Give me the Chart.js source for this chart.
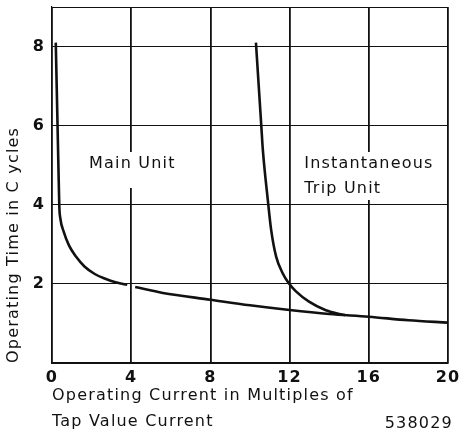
<!DOCTYPE html>
<html>
<head>
<meta charset="utf-8">
<script src="https://cdn.jsdelivr.net/npm/chart.js@4/dist/chart.umd.min.js"></script>
<style>
  html, body { margin: 0; padding: 0; background: #fff; }
  #wrap { width: 462px; height: 435px; }
</style>
</head>
<body>
<div id="wrap"><canvas id="chart-curves"></canvas></div>
<script>
// operating current, multiples of tap value
const mainCurrent = [0.19, 0.28, 0.34, 0.37, 0.42, 0.59, 0.85, 1.21, 1.64, 2.16, 2.69, 3.21, 3.65, 3.8, 4.0,
                     4.2, 5.6, 8, 10, 12, 14, 16, 18, 20];
// operating time, cycles (null = break in the printed curve)
const mainTime = [8.1, 6.0, 4.6, 3.95, 3.66, 3.32, 2.98, 2.69, 2.44, 2.25, 2.13, 2.04, 1.99, 1.98, null,
                  1.92, 1.77, 1.6, 1.46, 1.34, 1.24, 1.17, 1.08, 1.02];

const instCurrent = [10.3, 10.57, 10.65, 10.9, 11.07, 11.32, 11.65, 11.95, 12.32, 12.98, 13.8, 14.5, 14.8];
const instTime = [8.1, 6.0, 5.38, 4.12, 3.36, 2.69, 2.27, 2.02, 1.81, 1.55, 1.34, 1.24, 1.21];

const xTicks = [0, 4, 8, 12, 16, 20];
const yTicks = [2, 4, 6, 8];

const curveLabels = [
    {lines: ['Main Unit'], x: 1.87, y: 4.93, padBottom: 20},
    {lines: ['Instantaneous', 'Trip Unit'], x: 12.74, y: 4.93, padBottom: 7}
];

const FONT = 'DejaVu Sans';
const INK = '#111';

function toPoints(xs, ys) {
    return xs.map((x, i) => ({x: x, y: ys[i]}));
}

/* labels on white patches, drawn over the grid but under the curves */
const curveLabelPlugin = {
    id: 'curveLabels',
    beforeDraw(chart) {
        chart.ctx.letterSpacing = '1.2px';
    },
    beforeDatasetsDraw(chart) {
        const ctx = chart.ctx;
        const xs = chart.scales.x, ys = chart.scales.y;
        ctx.save();
        ctx.letterSpacing = '1.2px';
        ctx.font = '16px "' + FONT + '"';
        ctx.textBaseline = 'alphabetic';
        ctx.textAlign = 'left';
        curveLabels.forEach(function (lbl) {
            const px = xs.getPixelForValue(lbl.x);
            const py = ys.getPixelForValue(lbl.y);
            let w = 0;
            lbl.lines.forEach(function (t) { w = Math.max(w, ctx.measureText(t).width); });
            const lastBase = py + 25 * (lbl.lines.length - 1);
            ctx.fillStyle = '#fff';
            ctx.fillRect(px - 4, py - 16, w + 8, lastBase + lbl.padBottom - (py - 16));
            ctx.fillStyle = INK;
            lbl.lines.forEach(function (t, i) { ctx.fillText(t, px, py + 25 * i); });
        });
        ctx.restore();
    },
    afterDraw(chart) {
        const ctx = chart.ctx;
        ctx.save();
        ctx.letterSpacing = '1.2px';
        ctx.font = '16px "' + FONT + '"';
        ctx.fillStyle = INK;
        ctx.textAlign = 'right';
        ctx.textBaseline = 'alphabetic';
        ctx.fillText('538029', chart.chartArea.right + 5, 428);
        ctx.restore();
    }
};

const chartElement = document.getElementById('chart-curves');
const myChart = new Chart(chartElement, {
    type: 'line',
    data: {
        datasets: [{
            label: 'Main Unit',
            data: toPoints(mainCurrent, mainTime),
            borderColor: INK,
            borderWidth: 2.6,
            pointRadius: 0,
            cubicInterpolationMode: 'monotone',
            spanGaps: false
        }, {
            label: 'Instantaneous Trip Unit',
            data: toPoints(instCurrent, instTime),
            borderColor: INK,
            borderWidth: 2.6,
            pointRadius: 0,
            cubicInterpolationMode: 'monotone'
        }]
    },
    options: {
        responsive: true,
        maintainAspectRatio: false,
        animation: false,
        layout: {padding: {top: 7, right: 14, left: 0, bottom: 0}},
        plugins: {
            legend: {display: false},
            tooltip: {enabled: false}
        },
        scales: {
            x: {
                type: 'linear',
                min: 0,
                max: 20,
                afterBuildTicks(scale) {
                    scale.ticks = xTicks.map(v => ({value: v}));
                },
                afterFit(scale) {
                    scale.height = 72;
                    scale.paddingLeft = 0;
                    scale.paddingRight = 0;
                },
                ticks: {
                    padding: 5,
                    color: INK,
                    maxRotation: 0,
                    font: {family: FONT, size: 16, weight: 'bold'}
                },
                grid: {color: INK, lineWidth: 1.8, drawTicks: false},
                border: {color: INK, width: 1.8},
                title: {
                    display: true,
                    align: 'start',
                    text: ['Operating Current in Multiples of', 'Tap Value Current'],
                    color: INK,
                    font: {family: FONT, size: 16, lineHeight: '26px'},
                    padding: {top: 0, bottom: 0}
                }
            },
            y: {
                min: 0,
                max: 9,
                afterBuildTicks(scale) {
                    scale.ticks = [0].concat(yTicks, [9]).map(v => ({value: v}));
                },
                afterFit(scale) {
                    scale.width = 52;
                    scale.paddingTop = 0;
                    scale.paddingBottom = 0;
                },
                ticks: {
                    padding: 7,
                    color: INK,
                    font: {family: FONT, size: 16, weight: 'bold'},
                    callback: v => yTicks.includes(v) ? String(v) : ''
                },
                grid: {color: INK, lineWidth: 1, drawTicks: false},
                border: {color: INK, width: 1.2},
                title: {
                    display: true,
                    align: 'start',
                    text: 'Operating Time in C ycles',
                    color: INK,
                    font: {family: FONT, size: 16},
                    padding: {top: 4, bottom: 0}
                }
            }
        }
    },
    plugins: [curveLabelPlugin]
});
</script>
</body>
</html>
